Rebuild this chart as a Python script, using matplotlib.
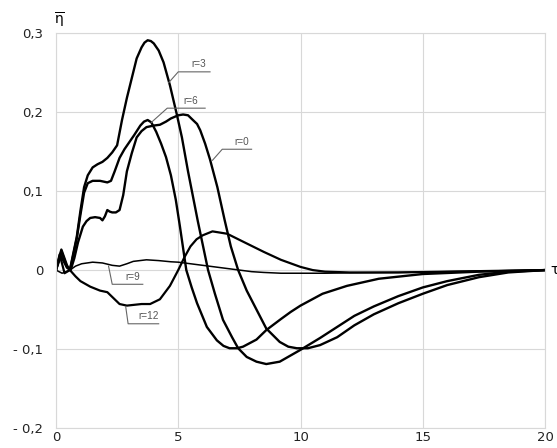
import matplotlib
matplotlib.use("Agg")
import matplotlib.pyplot as plt

# transient response curves eta(tau) for several r
t_r3 = [0, 0.22, 0.45, 0.57, 0.7, 0.85, 1.0, 1.15, 1.3, 1.5, 1.7, 1.9, 2.1, 2.3, 2.5, 2.7, 2.9, 3.1,
        3.3, 3.5, 3.62, 3.75, 3.88, 4.0, 4.2, 4.4, 4.66, 4.95, 5.15, 5.4, 5.8, 6.22, 6.5, 6.83, 7.2,
        7.45, 7.8, 8.2, 8.6, 9.15, 10, 10.8, 11.5, 12.2, 13, 14, 15, 16, 17.3, 18.5, 20]
eta_r3 = [0, 0.026, 0.006, 0, 0.02, 0.042, 0.075, 0.105, 0.12, 0.13, 0.134, 0.137, 0.142, 0.149,
          0.158, 0.19, 0.218, 0.243, 0.268, 0.282, 0.288, 0.291, 0.29, 0.287, 0.278, 0.263, 0.234,
          0.196, 0.168, 0.125, 0.062, 0, -0.03, -0.063, -0.085, -0.099, -0.11, -0.116, -0.119,
          -0.116, -0.101, -0.086, -0.072, -0.058, -0.046, -0.033, -0.022, -0.014, -0.006, -0.002, 0]

t_r6 = [0, 0.22, 0.45, 0.57, 0.7, 0.85, 1.0, 1.15, 1.3, 1.5, 1.8, 2.1, 2.25, 2.4, 2.6, 2.8, 3.0,
        3.2, 3.45, 3.6, 3.75, 3.9, 4.1, 4.3, 4.5, 4.7, 4.9, 5.07, 5.33, 5.55, 5.77, 6.17, 6.58,
        6.85, 7.1, 7.4, 7.65, 8.2, 8.6, 9.2, 9.6, 10, 10.9, 11.9, 13.2, 15, 17.3, 20]
eta_r6 = [0, 0.024, 0.004, 0, 0.018, 0.04, 0.07, 0.098, 0.11, 0.113, 0.113, 0.111, 0.113, 0.125,
          0.142, 0.153, 0.162, 0.171, 0.183, 0.188, 0.19, 0.187, 0.175, 0.16, 0.143, 0.12, 0.089,
          0.055, 0, -0.022, -0.042, -0.072, -0.089, -0.096, -0.099, -0.099, -0.097, -0.088,
          -0.076, -0.062, -0.053, -0.045, -0.03, -0.02, -0.011, -0.005, -0.002, 0]

t_r0 = [0, 0.2, 0.45, 0.6, 0.75, 0.9, 1.1, 1.25, 1.4, 1.6, 1.8, 1.9, 2.0, 2.1, 2.2, 2.3, 2.45, 2.6,
        2.75, 2.9, 3.1, 3.3, 3.5, 3.7, 4.0, 4.25, 4.5, 4.7, 5.0, 5.2, 5.4, 5.6, 5.77, 5.9, 6.1, 6.3,
        6.6, 6.9, 7.15, 7.45, 7.8, 8.2, 8.6, 9.15, 9.5, 9.85, 10.3, 10.8, 11.5, 12.2, 13, 14, 15,
        16, 17.3, 18.5, 20]
eta_r0 = [0, 0.018, 0.003, 0, 0.015, 0.035, 0.055, 0.062, 0.066, 0.067, 0.066, 0.063, 0.068,
          0.076, 0.074, 0.073, 0.073, 0.076, 0.095, 0.125, 0.148, 0.168, 0.176, 0.181, 0.183,
          0.184, 0.188, 0.192, 0.196, 0.197, 0.196, 0.19, 0.185, 0.177, 0.16, 0.14, 0.105, 0.063,
          0.03, 0, -0.026, -0.05, -0.074, -0.091, -0.097, -0.099, -0.099, -0.095, -0.085, -0.07,
          -0.056, -0.042, -0.03, -0.019, -0.009, -0.003, 0]

t_r9 = [0, 0.25, 0.57, 0.8, 1.05, 1.5, 1.9, 2.3, 2.6, 2.9, 3.16, 3.7, 4.2, 4.7, 5.0, 5.5, 6.0,
        6.5, 7.0, 7.5, 8.0, 8.5, 9.2, 10, 11, 12, 14, 16, 18, 20]
eta_r9 = [0, -0.004, 0, 0.005, 0.008, 0.01, 0.009, 0.006, 0.005, 0.008, 0.011, 0.013, 0.012,
          0.0105, 0.01, 0.008, 0.006, 0.004, 0.002, 0, -0.002, -0.003, -0.004, -0.004, -0.004,
          -0.0035, -0.003, -0.002, -0.001, 0]

t_r12 = [0, 0.15, 0.35, 0.57, 0.8, 1.0, 1.4, 1.8, 2.1, 2.4, 2.6, 2.9, 3.2, 3.5, 3.85, 4.25, 4.66,
         5.0, 5.25, 5.5, 5.75, 6.0, 6.4, 7.0, 7.65, 8.5, 9.2, 10, 10.5, 11, 12, 14, 16, 18, 20]
eta_r12 = [0, 0.02, -0.004, 0, -0.008, -0.014, -0.021, -0.026, -0.028, -0.037, -0.043, -0.045,
           -0.044, -0.043, -0.043, -0.037, -0.02, 0, 0.016, 0.03, 0.039, 0.044, 0.049, 0.046,
           0.036, 0.023, 0.013, 0.004, 0.0, -0.002, -0.003, -0.003, -0.002, -0.001, 0]

x_ticks = [0, 5, 10, 15, 20]
y_ticks = [-0.2, -0.1, 0, 0.1, 0.2, 0.3]
y_tick_labels = ["- 0,2", "- 0,1", "0", "0,1", "0,2", "0,3"]

fig = plt.figure(figsize=(5.57, 4.48), dpi=100)
ax = fig.add_axes([0.1005, 0.0446, 0.878, 0.8814])

grid_c = "#d8d8d8"
ax.set_xlim(0, 20)
ax.set_ylim(-0.2, 0.3)
ax.set_xticks(x_ticks)
ax.set_yticks(y_ticks)
ax.set_yticklabels(y_tick_labels)
ax.tick_params(length=0, labelsize=9.5, colors="#222222")
ax.tick_params(axis="y", pad=9)
ax.tick_params(axis="x", pad=2)
ax.grid(True, color=grid_c, linewidth=0.8)
for s in ax.spines.values():
    s.set_color(grid_c)
    s.set_linewidth(0.8)

ax.plot(t_r3, eta_r3, color="black", lw=1.7, solid_joinstyle="round")
ax.plot(t_r6, eta_r6, color="black", lw=1.7, solid_joinstyle="round")
ax.plot(t_r0, eta_r0, color="black", lw=1.7, solid_joinstyle="round")
ax.plot(t_r12, eta_r12, color="black", lw=1.6, solid_joinstyle="round")
ax.plot(t_r9, eta_r9, color="black", lw=1.1, solid_joinstyle="round")

# callouts: (point on curve, elbow, end of underline, label)
callouts = [
    ((4.6, 0.237), (5.0, 0.251), (6.3, 0.251), "r=3"),
    ((3.9, 0.187), (4.55, 0.205), (6.1, 0.205), "r=6"),
    ((6.4, 0.139), (6.8, 0.153), (8.0, 0.153), "r=0"),
    ((2.15, 0.005), (2.3, -0.018), (3.55, -0.018), "r=9"),
    ((2.85, -0.046), (2.95, -0.068), (4.2, -0.068), "r=12"),
]
for p0, p1, p2, lab in callouts:
    ax.plot([p0[0], p1[0], p2[0]], [p0[1], p1[1], p2[1]], color="#666666", lw=0.8)
    ax.text((p1[0] + p2[0]) / 2 + 0.2, p1[1] + 0.003, lab, fontsize=7.2, color="#555555",
            ha="center", va="bottom", family="Liberation Sans")

ax.text(-0.1, 0.304, r"$\overline{\mathrm{\eta}}$", fontsize=10, ha="left", va="bottom")
ax.text(20.2, 0.0, "\u03c4", fontsize=10, ha="left", va="center", clip_on=False)

fig.savefig("out.png", dpi=100)
